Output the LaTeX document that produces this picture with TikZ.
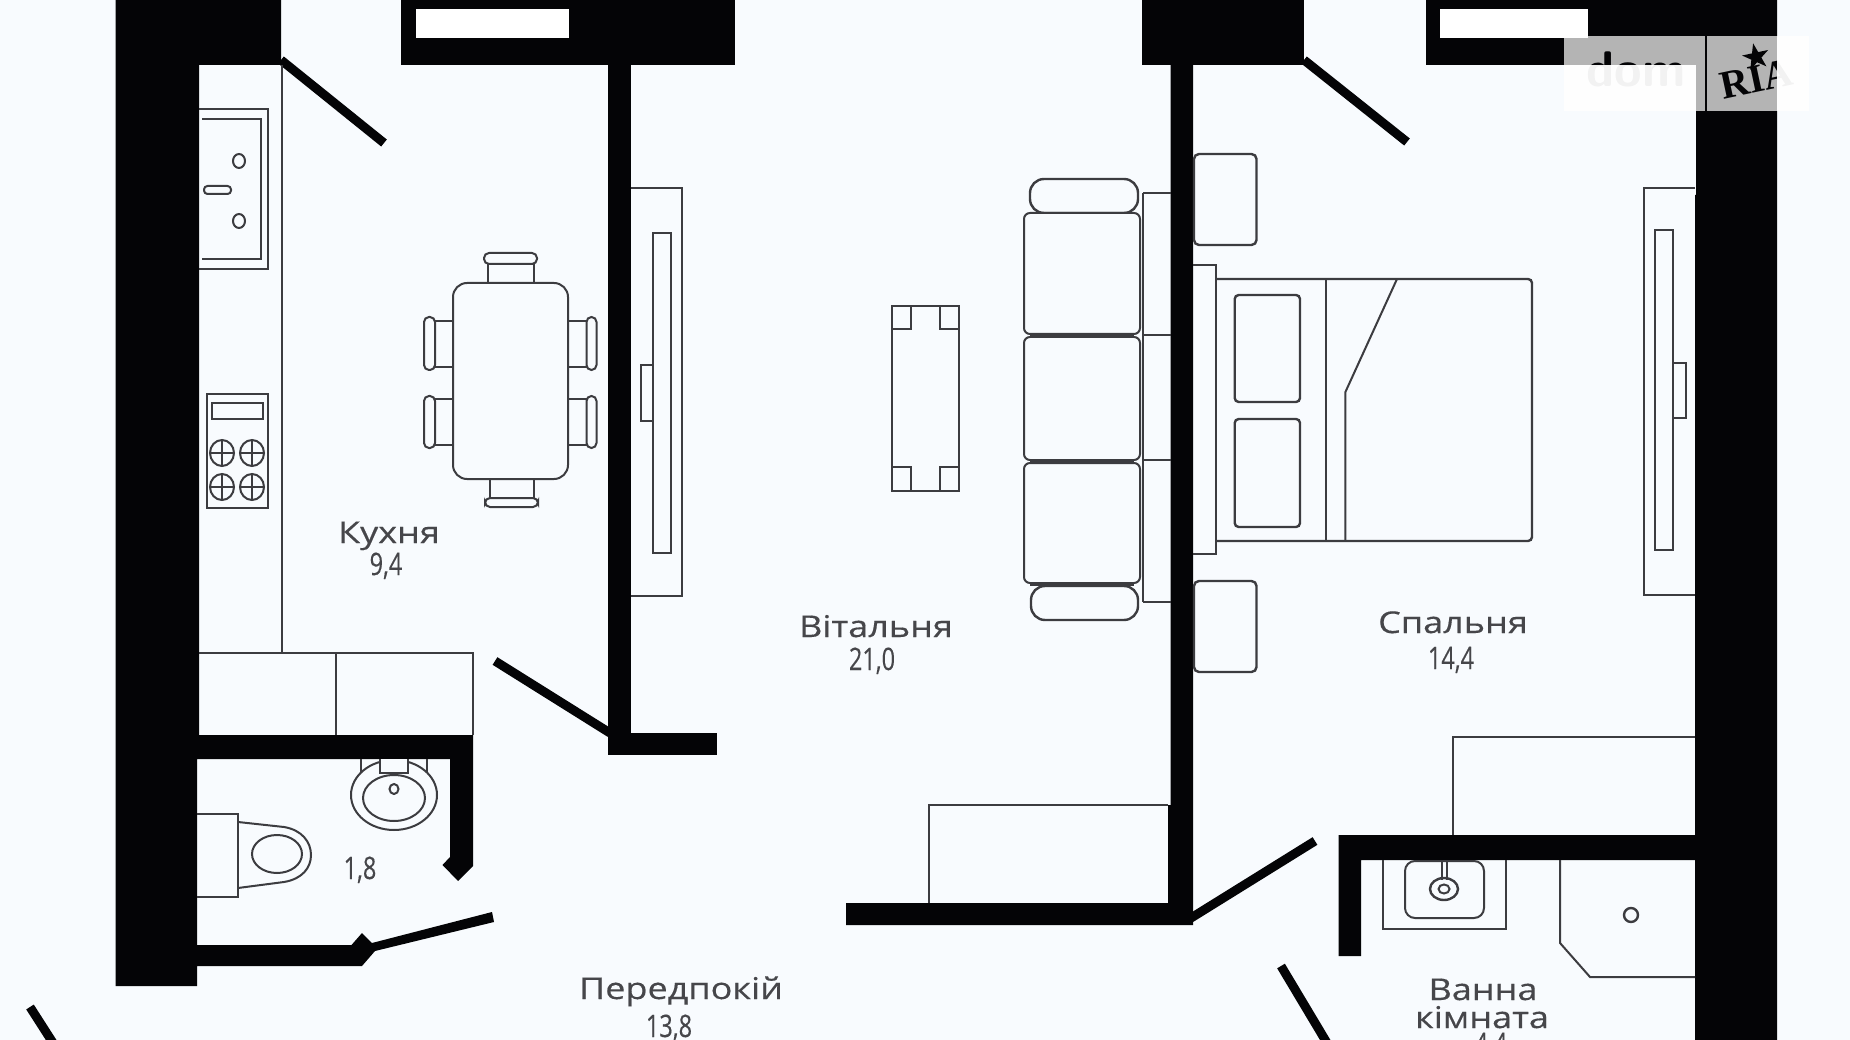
\documentclass[tikz,border=0pt]{standalone}
\usepackage{graphicx}
\usepackage{fontspec}
\setmainfont{Open Sans}
\newfontfamily\labfont{Open Sans}[FakeBold=0.35]
\newfontfamily\wmfont{Liberation Serif}[BoldFont={Liberation Serif Bold}]
\usetikzlibrary{shapes.geometric}
\definecolor{bgc}{HTML}{F8FBFE}
\definecolor{ink}{HTML}{3C3C40}
\definecolor{txt}{HTML}{46464A}
\definecolor{wall}{HTML}{040406}
\tikzset{
  wallfill/.style={fill=wall,draw=none},
  hole/.style={fill=white,draw=none},
  door/.style={draw=wall,line width=9pt},
  thinline/.style={draw=ink,line width=2pt},
  heavyline/.style={draw=ink,line width=2.4pt},
  roomlabel/.style={text=txt,inner sep=0pt,anchor=base,font=\labfont\fontsize{30}{32}\selectfont},
  arealabel/.style={text=txt,inner sep=0pt,anchor=base,font=\labfont\fontsize{31}{33}\selectfont}
}
\newcommand{\wide}[2]{\scalebox{#1}[1]{#2}}
\begin{document}
\begin{tikzpicture}[x=1pt,y=-1pt]
\useasboundingbox (0,0) rectangle (1850,1040);
\clip (0,0) rectangle (1850,1040);
\fill[bgc] (0,0) rectangle (1850,1040);
% walls
\fill[wallfill] (115.5,-1) -- (281,-1) -- (281,65) -- (199,65) -- (199,735) -- (473,735) -- (473,866) -- (458,881) -- (442.5,865) -- (450,857) -- (450,759) -- (197,759) -- (197,945) -- (351.5,945) -- (362,933) -- (372,943) -- (492,912) -- (494,922) -- (375,951) -- (362,966) -- (197,966) -- (197,986) -- (115.5,986) -- cycle;
\fill[wallfill] (400.5,-1) rectangle (735,65);
\fill[hole] (416,9) rectangle (569,38);
\fill[wallfill] (608,65) rectangle (631,755);
\fill[wallfill] (608,733) rectangle (717,755);
\fill[wallfill] (1142,-1) rectangle (1304,65);
\fill[wallfill] (1170.7,65) -- (1193,65) -- (1193,925) -- (846,925) -- (846,903) -- (1168,903) -- (1168,805) -- (1170.7,805) -- cycle;
\fill[wallfill] (1425.6,-1) rectangle (1777,65);
\fill[hole] (1440,9) rectangle (1587.6,38);
\fill[wallfill] (1696,-1) -- (1777,-1) -- (1777,1041) -- (1695,1041) -- (1695,195) -- (1696,195) -- cycle;
\fill[wallfill] (1338.6,835) -- (1696,835) -- (1696,860) -- (1361,860) -- (1361,956) -- (1338.6,956) -- cycle;
% doors
\coordinate (d1a) at (281,60); \coordinate (d1b) at (384,143);
\coordinate (d2a) at (495,661); \coordinate (d2b) at (610,733);
\coordinate (d3a) at (1304,60); \coordinate (d3b) at (1407,142);
\coordinate (d4a) at (1191,918); \coordinate (d4b) at (1315,841);
\coordinate (d5a) at (1281,966); \coordinate (d5b) at (1330,1048);
\coordinate (d6a) at (30,1007); \coordinate (d6b) at (55,1046);
\draw[door] (d1a) -- (d1b);
\draw[door] (d2a) -- (d2b);
\draw[door] (d3a) -- (d3b);
\draw[door] (d4a) -- (d4b);
\draw[door] (d5a) -- (d5b);
\draw[door] (d6a) -- (d6b);
% kitchen counter
\draw[thinline] (282,65) -- (282,653);
\draw[thinline] (199,653) -- (473,653) -- (473,735);
\draw[thinline] (335.5,653) -- (335.5,735);
% sink
\draw[thinline] (199,109) -- (268,109) -- (268,269) -- (199,269);
\draw[thinline] (202,119) -- (260.5,119) -- (260.5,259) -- (202,259);
\draw[thinline] (239,161) ellipse (6 and 7);
\draw[thinline] (239,221) ellipse (6 and 7);
\draw[thinline,rounded corners=3.5pt] (204,186) rectangle (231,194);
% stove
\draw[thinline] (206.7,394) rectangle (268,508);
\draw[thinline] (212,403) rectangle (262.6,419);
\foreach \bx in {222,252}{\foreach \by in {453,487}{
  \draw[thinline] (\bx,\by) ellipse (12 and 13);
  \draw[thinline,line width=1.4pt] (\bx-12,\by) -- (\bx+12,\by) (\bx,\by-13) -- (\bx,\by+13);
}}
% table and chairs
\draw[thinline,rounded corners=14pt] (453,283) rectangle (568,479);
\draw[thinline] (488,283) -- (488,263) (534,263) -- (534,283);
\draw[thinline,rounded corners=5pt] (484,253) rectangle (537,264);
\draw[thinline] (490,479) -- (490,498) (534,498) -- (534,479);
\draw[thinline,rounded corners=5pt] (485,498) rectangle (538,507);
\foreach \ct/\cb/\nt/\nb in {317/370/321/367,396/448/399/445}{
  \draw[thinline] (453,\nt) -- (435,\nt) (435,\nb) -- (453,\nb);
  \draw[thinline,rounded corners=5pt] (424,\ct) rectangle (435,\cb);
  \draw[thinline] (568,\nt) -- (586.5,\nt) (586.5,\nb) -- (568,\nb);
  \draw[thinline,rounded corners=5pt] (586.5,\ct) rectangle (596.5,\cb);
}
% left tv unit
\draw[thinline] (631,188) -- (682,188) -- (682,596) -- (631,596);
\draw[thinline] (653,233) rectangle (671,553);
\draw[thinline] (641,365) rectangle (653,421);
% wc basin
\draw[thinline] (361,759) -- (361,782) (427,759) -- (427,782);
\draw[thinline,fill=bgc] (394,795) ellipse (43 and 35);
\draw[thinline] (394,798) ellipse (31 and 23);
\draw[thinline] (394,789) ellipse (4.5 and 5);
\draw[thinline,fill=bgc] (380,759) -- (380,773) -- (408,773) -- (408,759);
% toilet
\draw[thinline] (197,814) -- (238,814) -- (238,897) -- (197,897);
\draw[thinline] (238,822) -- (284,827) .. controls (302,830) and (311,842) .. (311,855) .. controls (311,868) and (302,879) .. (284,882) -- (238,888);
\draw[thinline] (277,854) ellipse (25 and 19);
% coffee table
\draw[thinline] (891.5,306) rectangle (959,491);
\draw[thinline] (891.5,329) -- (910.5,329) -- (910.5,306) (959,329) -- (940,329) -- (940,306);
\draw[thinline] (891.5,467) -- (910.5,467) -- (910.5,491) (959,467) -- (940,467) -- (940,491);
% sofa
\draw[thinline] (1143,193) -- (1171,193) (1143,335) -- (1171,335) (1143,460) -- (1171,460) (1143,602) -- (1171,602);
\draw[thinline] (1143,193) -- (1143,602);
\draw[heavyline,rounded corners=14pt,fill=bgc] (1030,179) rectangle (1138,213);
\draw[heavyline,rounded corners=14pt,fill=bgc] (1031,586) rectangle (1138,620);
\draw[thinline,rounded corners=6pt,fill=bgc] (1024,213) rectangle (1140,334);
\draw[thinline,rounded corners=6pt,fill=bgc] (1024,337) rectangle (1140,460);
\draw[thinline,rounded corners=6pt,fill=bgc] (1024,463) rectangle (1140,583);
\draw[heavyline] (1030,335.5) -- (1134,335.5) (1030,461.5) -- (1134,461.5) (1030,584.5) -- (1134,584.5);
% living dresser
\draw[thinline] (1168,805) -- (929,805) -- (929,903);
% nightstands
\draw[heavyline,rounded corners=5pt] (1194,154) rectangle (1256.5,245);
\draw[heavyline,rounded corners=5pt] (1194,581) rectangle (1256.5,672);
% bed
\draw[heavyline] (1193,265) -- (1216,265) -- (1216,554) -- (1193,554);
\draw[heavyline,rounded corners=4pt] (1216,279) -- (1532,279) -- (1532,541) -- (1216,541);
\draw[thinline] (1325.7,279) -- (1325.7,541);
\draw[thinline] (1345.4,541) -- (1345.4,392) -- (1397,279);
\draw[heavyline,rounded corners=4pt] (1234.7,295) rectangle (1300,402);
\draw[heavyline,rounded corners=4pt] (1234.7,419) rectangle (1300,527);
% right tv unit
\draw[thinline] (1695,188) -- (1644,188) -- (1644,595) -- (1695,595);
\draw[thinline] (1655,230) rectangle (1672.5,550);
\draw[thinline] (1672.5,363) rectangle (1686,418);
% bedroom dresser
\draw[thinline] (1695,737) -- (1453,737) -- (1453,835);
% bath sink
\draw[thinline] (1383,860) -- (1383,929) -- (1506,929) -- (1506,860);
\draw[thinline,rounded corners=10pt] (1405,861) rectangle (1484,918);
\draw[thinline] (1442,860) -- (1442,880) (1447,860) -- (1447,880);
\draw[heavyline] (1444,889) ellipse (14 and 11);
\draw[thinline] (1444,889) ellipse (5.5 and 4.5);
% shower
\draw[thinline] (1560,860) -- (1560,943) -- (1590,977) -- (1695,977);
\draw[heavyline] (1631,915) circle (7);
% labels
\node[roomlabel] (kitchen) at (389,543) {\wide{1.2}{Кухня}};
\node[arealabel] (kitchenA) at (386,575) {\wide{.76}{9,4}};
\node[arealabel] (wcA) at (360,879) {\wide{.76}{1,8}};
\node[roomlabel] (living) at (876,637) {\wide{1.2}{Вітальня}};
\node[arealabel] (livingA) at (872,670) {\wide{.76}{21,0}};
\node[roomlabel] (bedroom) at (1453,633) {\wide{1.2}{Спальня}};
\node[arealabel] (bedroomA) at (1451,669) {\wide{.76}{14,4}};
\node[roomlabel] (hall) at (681,999) {\wide{1.2}{Передпокій}};
\node[arealabel] (hallA) at (669,1037) {\wide{.76}{13,8}};
\node[roomlabel] (bath1) at (1483,1000) {\wide{1.2}{Ванна}};
\node[roomlabel] (bath2) at (1482,1028) {\wide{1.2}{кімната}};
\node[arealabel] (bathA) at (1491,1055) {\wide{.76}{4,4}};
% watermark
\fill[white,opacity=.7] (1564,36) rectangle (1809,111);
\node[inner sep=0pt,anchor=base,text=wall,font=\sffamily\bfseries\fontsize{50}{52}\selectfont] (dom) at (1636,87) {dom};
\node[inner sep=0pt,anchor=base,rotate=12,text=wall,font=\wmfont\bfseries\fontsize{40}{42}\selectfont] (ria) at (1759,92) {RIA};
\node[star,star points=5,star point ratio=2.6,minimum size=28pt,inner sep=0pt,fill=wall,rotate=12] (riaStar) at (1756,57) {};
\fill[white,opacity=.95] (1564,65) rectangle (1696,111);
\fill[white,opacity=.95] (1777,36) rectangle (1809,111);
\draw[wall,line width=1.5pt] (1706,36) -- (1706,111);
\end{tikzpicture}
\end{document}
